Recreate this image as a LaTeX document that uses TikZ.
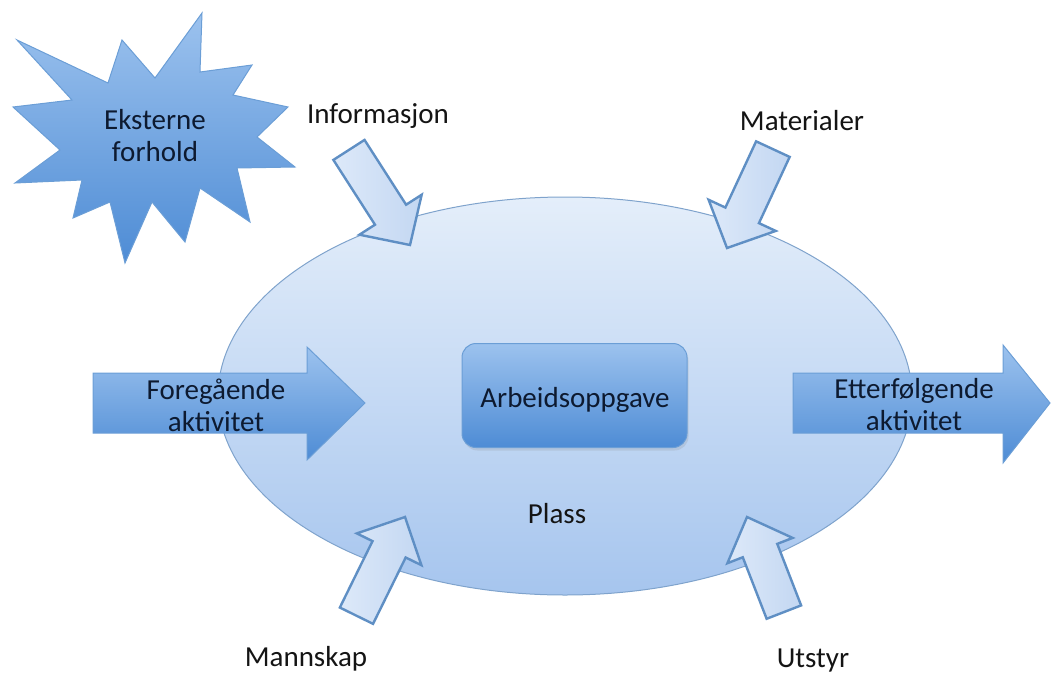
\documentclass[tikz,border=0pt]{standalone}
\usepackage{fontspec}
\setmainfont{Carlito}
\usetikzlibrary{shapes.geometric,shadows}

\definecolor{inktext}{HTML}{0D1A30}
\definecolor{labeltext}{HTML}{141414}
\definecolor{ovaltop}{HTML}{E4EEFA}
\definecolor{ovalbot}{HTML}{A6C5EE}
\definecolor{ovalline}{HTML}{7FA3CC}
\definecolor{solidtop}{HTML}{9CC2EE}
\definecolor{solidbot}{HTML}{4E8CD5}
\definecolor{solidline}{HTML}{6B9ED6}
\definecolor{palefill}{HTML}{DDE9F9}
\definecolor{paleend}{HTML}{C3D7F2}
\definecolor{paleline}{HTML}{5F8FC4}

\tikzset{
  x=1pt, y=-1pt,
  every node/.style={font=\fontsize{29}{32}\selectfont},
  oval/.style={ellipse, draw=ovalline, line width=1pt,
    top color=ovaltop, bottom color=ovalbot, inner sep=0pt},
  taskbox/.style={draw=solidline, line width=1pt, rounded corners=14pt,
    top color=solidtop, bottom color=solidbot,
    drop shadow={opacity=0.18, shadow xshift=1.5pt, shadow yshift=-3pt}},
  solidshape/.style={draw=solidline, line width=1pt,
    top color=solidtop, bottom color=solidbot},
  paleshape/.style={draw=paleline, line width=2.4pt, line join=miter,
    left color=palefill, right color=paleend},
  intext/.style={text=inktext, align=center},
  outtext/.style={text=labeltext, anchor=base},
}

% block arrow pointing along the local x axis, tip at the origin
\newcommand\inputarrow[4]{%
  \begin{scope}[shift={(#1)}, rotate=#2]
    \path[paleshape] (-#3,-18.5) -- (-36,-18.5) -- (-36,-#4) -- (0,0)
      -- (-36,#4) -- (-36,18.5) -- (-#3,18.5) -- cycle;
  \end{scope}}

\begin{document}
\begin{tikzpicture}
\useasboundingbox (0,0) rectangle (1051,677);

% work area
\node[oval, minimum width=694pt, minimum height=398pt] (plass) at (565,396) {};
\node[text=labeltext, anchor=base] (plasslabel) at (557,523) {Plass};

% the task itself
\node[taskbox, minimum width=225pt, minimum height=104pt] (task) at (574.5,395.5) {};
\node[intext, anchor=base] (tasklabel) at (575,407) {Arbeidsoppgave};

% preceding and following activities
\path[solidshape] (93,373) -- (307,373) -- (307,347) -- (365,403)
  -- (307,460) -- (307,433) -- (93,433) -- cycle;
\node[intext] (before) at (216,405) {Foregående\\aktivitet};

\path[solidshape] (793,373) -- (1003,373) -- (1003,345) -- (1050,403)
  -- (1003,463) -- (1003,433) -- (793,433) -- cycle;
\node[intext] (after) at (914,405) {Etterfølgende\\aktivitet};

% external conditions
\path[solidshape] (17,40) -- (108,83) -- (122,40) -- (155,78) -- (202,13)
  -- (200,72) -- (252,65) -- (233,95) -- (288,107) -- (257,137)
  -- (295,167) -- (237,168) -- (250,222) -- (200,188) -- (185,242)
  -- (152,202) -- (125,263) -- (110,202) -- (73,218) -- (82,180)
  -- (15,183) -- (60,150) -- (13,107) -- (72,100) -- cycle;
\node[intext] (ext) at (155,136) {Eksterne\\forhold};

% resources flowing in
\inputarrow{410,245}{-57.3}{113}{37}
\inputarrow{727,248}{-114.9}{109}{37}
\inputarrow{405,517}{63.8}{110}{36}
\inputarrow{747,517}{111.2}{102}{35}

\node[outtext] (info) at (378,123) {Informasjon};
\node[outtext] (mat) at (802,130) {Materialer};
\node[outtext] (crew) at (306,666) {Mannskap};
\node[outtext] (equip) at (813,667) {Utstyr};
\end{tikzpicture}
\end{document}
